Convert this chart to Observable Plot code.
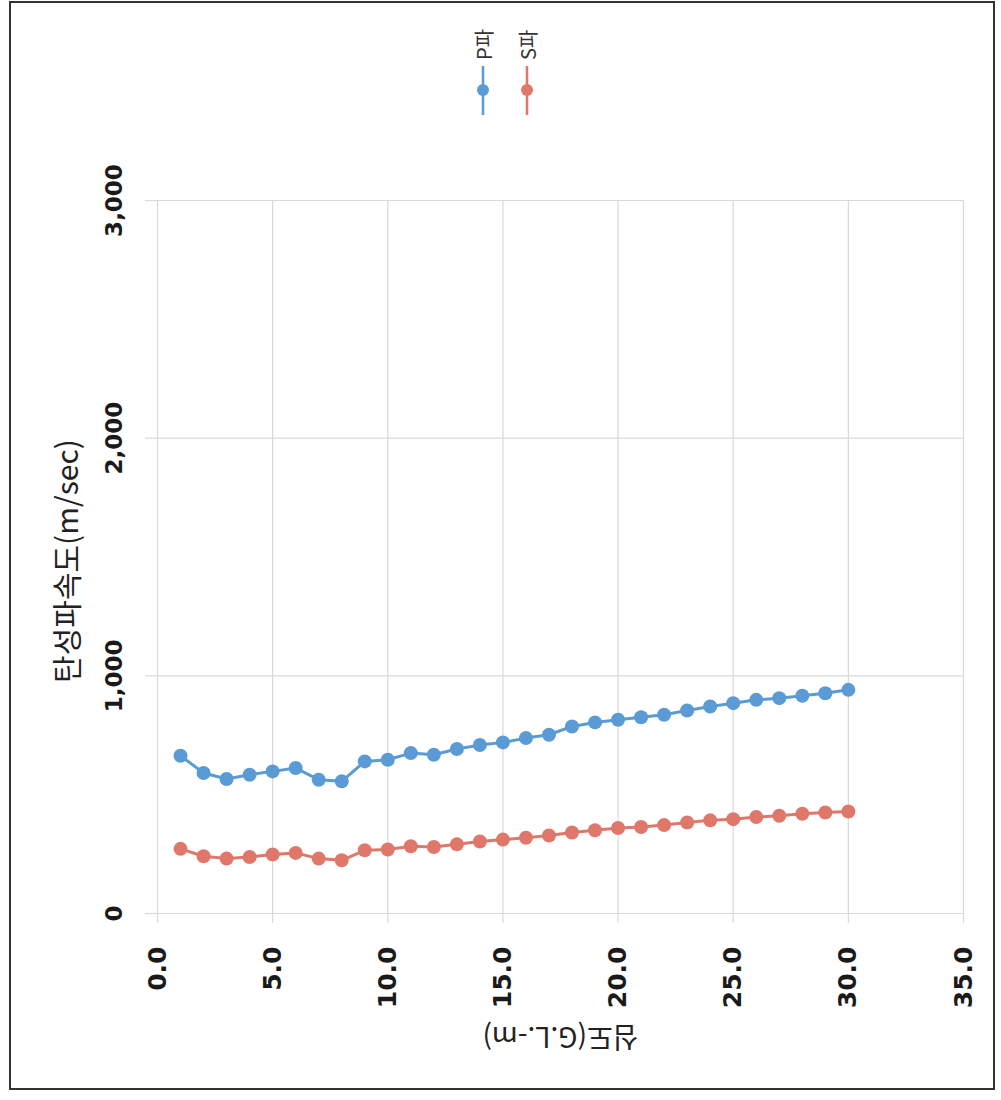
<!DOCTYPE html>
<html>
<head>
<meta charset="utf-8">
<script src="https://cdn.jsdelivr.net/npm/d3@7"></script>
<script src="https://cdn.jsdelivr.net/npm/@observablehq/plot@0.6"></script>
<style>
  html, body { margin: 0; padding: 0; background: #fff; }
  #wrap { position: relative; width: 1001px; height: 1100px; overflow: hidden; }
  #border { position: absolute; left: 9px; top: 1px; width: 982px; height: 1085px; border: 2px solid #333; pointer-events: none; }
  #legend { position: absolute; left: 0; top: 0; }
  #chart { position: absolute; left: 0; top: 0; }
</style>
</head>
<body>
<div id="wrap">
  <div id="chart"></div>
  <svg id="legend" width="1001" height="140"></svg>
  <div id="border"></div>
</div>
<script>
const depths = [1,2,3,4,5,6,7,8,9,10,11,12,13,14,15,16,17,18,19,20,21,22,23,24,25,26,27,28,29,30];
const pWave = [664,591,566,584,598,612,563,556,640,647,675,668,692,709,720,738,752,787,804,815,826,836,854,871,885,899,906,916,927,941];
const sWave = [272,241,231,238,248,255,231,224,266,269,283,280,291,303,311,319,328,341,350,360,364,372,383,392,397,406,411,420,425,429];
const seriesNames = ["P파", "S파"];
const seriesColors = ["#5a9bd5", "#e0776b"];
const xTicks = [0,5,10,15,20,25,30,35];
const yTicks = [0,1000,2000,3000];
const xTitle = "심도(G.L.-m)";
const yTitle = "탄성파속도(m/sec)";

const rows = [];
depths.forEach((d, i) => {
  rows.push({depth: d, v: pWave[i], s: seriesNames[0]});
  rows.push({depth: d, v: sWave[i], s: seriesNames[1]});
});

const grid = "#d9d9d9";
const tickFont = "DejaVu Sans, Verdana, sans-serif";
const krFont = "Noto Sans CJK KR, sans-serif";

const chart = Plot.plot({
  width: 1001,
  height: 1100,
  marginLeft: 157,
  marginRight: 38,
  marginTop: 200,
  marginBottom: 187,
  x: {domain: [0, 35]},
  y: {domain: [0, 3000]},
  color: {domain: seriesNames, range: seriesColors},
  marks: [
    Plot.gridX(xTicks, {stroke: grid, strokeOpacity: 1, strokeWidth: 1.2}),
    Plot.gridY(yTicks, {stroke: grid, strokeOpacity: 1, strokeWidth: 1.2}),
    Plot.axisX(xTicks, {tickSize: 10, tickFormat: () => "", stroke: grid, strokeWidth: 1.2, label: null}),
    Plot.axisY(yTicks, {tickSize: 12, tickFormat: () => "", stroke: grid, strokeWidth: 1.2, label: null}),
    Plot.text(xTicks, {x: d => d, text: d => d3.format(".1f")(d), frameAnchor: "bottom", dy: 33, rotate: -90, textAnchor: "end", lineAnchor: "middle", fontSize: 25, fontWeight: "bold", fontFamily: tickFont, fill: "#1a1a1a"}),
    Plot.text(yTicks, {y: d => d, text: d => d3.format(",")(d), frameAnchor: "left", dx: -43, rotate: -90, textAnchor: "middle", lineAnchor: "middle", fontSize: 23, fontWeight: "bold", fontFamily: tickFont, fill: "#1a1a1a"}),
    Plot.text([yTitle], {text: d => d, frameAnchor: "left", dx: -89, dy: 4, rotate: -90, textAnchor: "middle", lineAnchor: "middle", fontSize: 30, fontFamily: krFont, fill: "#222"}),
    Plot.text([xTitle], {text: d => d, frameAnchor: "bottom", dy: 122, rotate: 180, textAnchor: "middle", lineAnchor: "middle", fontSize: 28, fontFamily: krFont, fill: "#222"}),
    Plot.line(rows, {x: "depth", y: "v", z: "s", stroke: "s", strokeWidth: 3}),
    Plot.dot(rows, {x: "depth", y: "v", fill: "s", r: 7})
  ]
});
document.getElementById("chart").appendChild(chart);

// legend
const leg = d3.select("#legend");
const legX = [483, 527];
seriesNames.forEach((name, i) => {
  const g = leg.append("g").attr("transform", `translate(${legX[i]},0)`);
  g.append("line").attr("x1", 0).attr("x2", 0).attr("y1", 66).attr("y2", 115)
    .attr("stroke", seriesColors[i]).attr("stroke-width", 2.5);
  g.append("circle").attr("cx", 0).attr("cy", 90).attr("r", 6).attr("fill", seriesColors[i]);
  g.append("text").text(name)
    .attr("transform", "translate(0,60) rotate(-90)")
    .attr("text-anchor", "start").attr("dominant-baseline", "central")
    .attr("font-family", krFont).attr("font-size", 20).attr("fill", "#333");
});
</script>
</body>
</html>
